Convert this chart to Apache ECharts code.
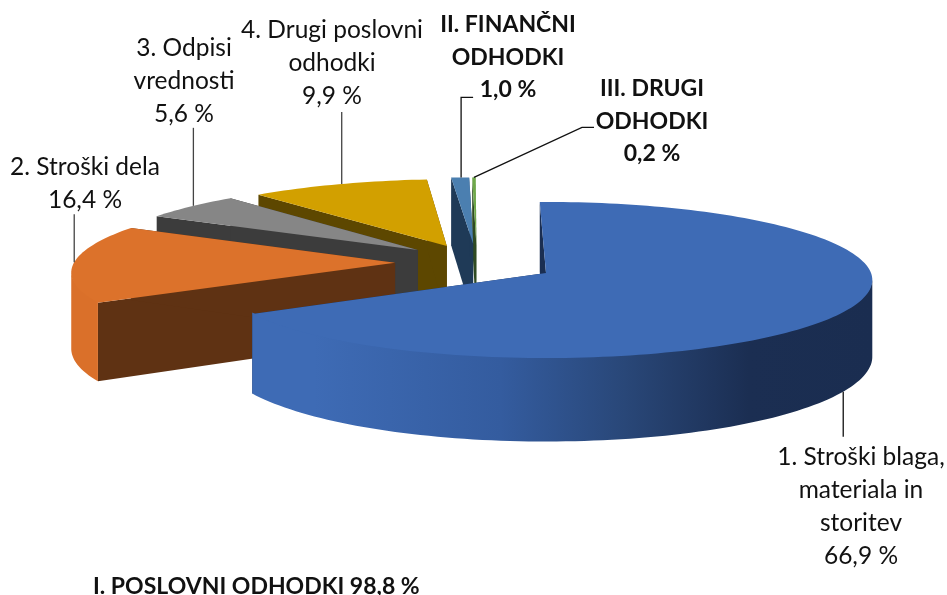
<!DOCTYPE html>
<html>
<head>
<meta charset="utf-8">
<title>Odhodki</title>
<script src="https://cdn.jsdelivr.net/npm/echarts@6/dist/echarts.min.js"></script>
<style>
html, body { margin: 0; padding: 0; background: #fff; }
#main { width: 947px; height: 595px; }
</style>
</head>
<body>
<div id="main"></div>
<script>
// data
const categories = [
  '1. Stroški blaga,\nmateriala in\nstoritev',
  '2. Stroški dela',
  '3. Odpisi\nvrednosti',
  '4. Drugi poslovni\nodhodki',
  'II. FINANČNI\nODHODKI',
  'III. DRUGI\nODHODKI'
]
const values = [66.9, 16.4, 5.6, 9.9, 1.0, 0.2]
const groupLabel = 'I. POSLOVNI ODHODKI'
const groupValue = 98.8

// look of the slices, same order as above
const topColors = ['#3e6bb5', '#dc722b', '#868686', '#d2a000', '#4b7fb0', '#6fa84a']
const cutColors = ['#1a2e52', '#5f3213', '#3c3c3c', '#5d4700', '#1f3a57', '#2f4a22']
const rimColors = [null, '#da702a', '#6e6e6e', '#a88000', '#2f5a80', '#4a7a30']
const explode = [[0, 0], [-0.47, -0.135], [-0.405, -0.305], [-0.315, -0.36], [-0.232, -0.39], [-0.222, -0.39]]
const bold = [false, false, false, false, true, true]

// labels: centre x, first line y; leaders: where on the slice, then offsets from there
const labelPos = [[861, 457], [85, 167], [184, 48], [332, 30], [508, 24], [652, 88]]
const leaders = [
  { at: 0.499, base: true, to: [[0, 45]] },
  { at: 0.52, base: false, to: [[0, -48]] },
  { at: 0.537, base: false, to: [[0, -78]] },
  { at: 0.518, base: false, to: [[0, -72]] },
  { at: 0.55, base: false, to: [[0, -80], [12, -80]] },
  { at: 0.5, base: false, to: [[108, -50], [120, -50]] }
]

// projection of the pie plane, tilted with a bit of perspective
const cx = 546
const cy = 273
const rx = 325
const ry = 77.4
const persp = 0.0897
const depth = 76
const startAngle = -1.2

const total = values.reduce((a, b) => a + b, 0)

function project(u, v, down) {
  const w = 1 - persp * v
  return [cx + rx * u / w, cy + ry * v / w + (down ? depth / w : 0)]
}

function sliceAngles(i) {
  let sum = 0
  for (let k = 0; k < i; k++) sum += values[k]
  return [startAngle + sum / total * 360, startAngle + (sum + values[i]) / total * 360]
}

function rimPoint(i, deg, down) {
  const a = deg * Math.PI / 180
  return project(explode[i][0] + Math.sin(a), explode[i][1] - Math.cos(a), down)
}

function fmt(v) {
  return v.toFixed(1).replace('.', ',') + ' %'
}

const blueWall = {
  type: 'linear', global: true, x: 252, y: 0, x2: 873, y2: 0,
  colorStops: [
    { offset: 0, color: '#3e6bb5' },
    { offset: 0.1, color: '#3e6bb5' },
    { offset: 0.4, color: '#345c9f' },
    { offset: 0.6, color: '#294778' },
    { offset: 0.8, color: '#1b2e52' },
    { offset: 1, color: '#1a2d50' }
  ]
}

function renderSlice(params) {
  const i = params.dataIndex
  const [a1, a2] = sliceAngles(i)
  const apex = project(explode[i][0], explode[i][1], false)
  const apexDown = project(explode[i][0], explode[i][1], true)
  const base = (values.length - i) * 10
  const children = []

  // the two cut faces
  ;[a1, a2].forEach(a => {
    children.push({
      type: 'polygon',
      z2: base,
      shape: { points: [apex, rimPoint(i, a, false), rimPoint(i, a, true), apexDown] },
      style: { fill: cutColors[i] }
    })
  })

  // rim, only the pieces that face the viewer
  const steps = Math.max(2, Math.ceil((a2 - a1) / 1.5))
  const rimTop = []
  for (let s = 0; s <= steps; s++) rimTop.push(rimPoint(i, a1 + (a2 - a1) * s / steps, false))
  const front = []
  const back = []
  for (let s = 0; s <= steps; s++) {
    const a = a1 + (a2 - a1) * s / steps
    const p = rimTop[s]
    const next = s < steps ? rimTop[s + 1] : null
    const prev = s > 0 ? rimTop[s - 1] : null
    const faces = (next && next[0] < p[0]) || (prev && p[0] < prev[0])
    if (faces) {
      // pushed up a little under the top face so no pale seam shows
      front.push([p[0], p[1] - 1.5])
      back.unshift(rimPoint(i, a, true))
    }
  }
  if (front.length > 1) {
    children.push({
      type: 'polygon',
      z2: base + 1,
      shape: { points: front.concat(back) },
      style: { fill: rimColors[i] || blueWall }
    })
  }

  // top face
  children.push({
    type: 'polygon',
    z2: base + 2,
    shape: { points: [apex].concat(rimTop) },
    style: { fill: topColors[i] }
  })

  // leader line
  const ld = leaders[i]
  const start = rimPoint(i, a1 + (a2 - a1) * ld.at, ld.base)
  children.push({
    type: 'polyline',
    z2: 200,
    shape: { points: [start].concat(ld.to.map(d => [start[0] + d[0], start[1] + d[1]])) },
    style: { fill: null, stroke: i > 3 || i === 0 ? '#111' : '#444', lineWidth: 1.3 }
  })

  // label
  children.push({
    type: 'text',
    z2: 200,
    style: {
      text: categories[i] + '\n' + fmt(values[i]),
      x: labelPos[i][0],
      y: labelPos[i][1] - 16,
      align: 'center',
      verticalAlign: 'top',
      lineHeight: 32.8,
      fontFamily: 'Lato',
      fontSize: bold[i] ? 23 : 24.5,
      fontWeight: bold[i] ? 'bold' : 'normal',
      fill: '#111'
    }
  })

  return { type: 'group', children: children }
}

const chart = echarts.init(document.getElementById('main'), null, { renderer: 'canvas' })
chart.setOption({
  animation: false,
  backgroundColor: '#fff',
  graphic: [{
    type: 'text',
    style: {
      text: groupLabel + ' ' + fmt(groupValue),
      x: 93,
      y: 587,
      align: 'left',
      verticalAlign: 'middle',
      fontFamily: 'Lato',
      fontSize: 23,
      fontWeight: 'bold',
      fill: '#111'
    }
  }],
  series: [{
    type: 'custom',
    coordinateSystem: 'none',
    silent: true,
    clip: false,
    data: values,
    renderItem: renderSlice
  }]
})
</script>
</body>
</html>
